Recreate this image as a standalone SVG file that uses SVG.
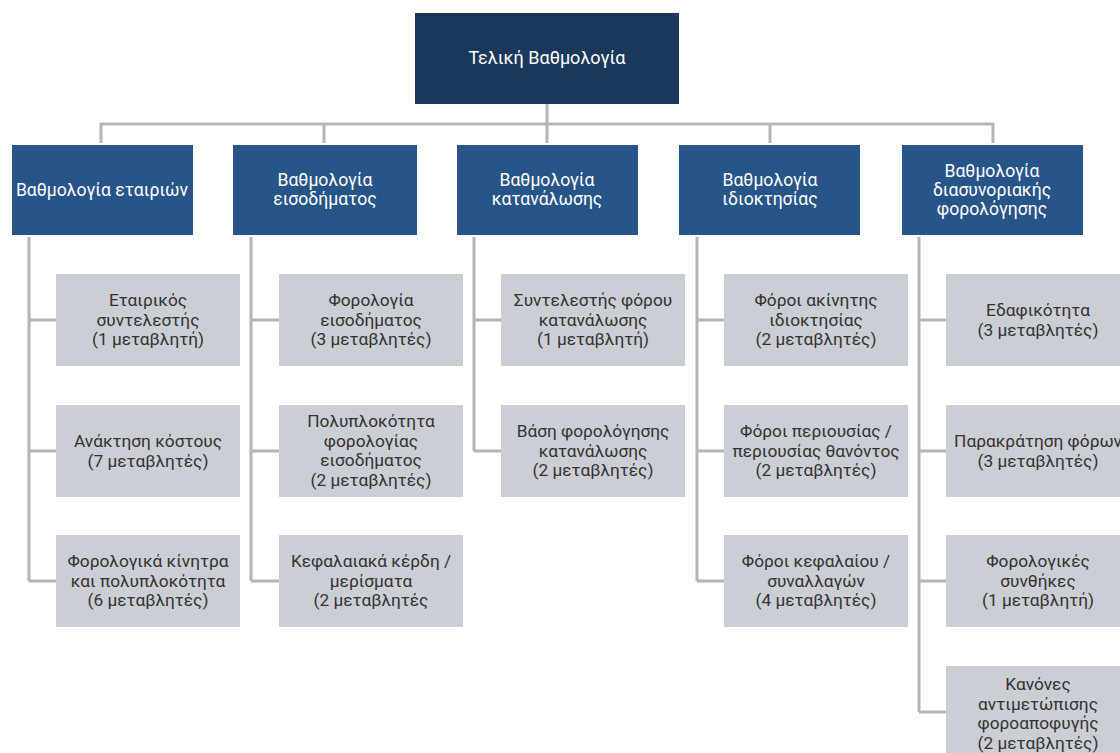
<svg xmlns="http://www.w3.org/2000/svg" width="1120" height="753" viewBox="0 0 1120 753">
<style>
.root{fill:#1b385b}
.hdr{fill:#285587}
.leaf{fill:#cbced4}
.conn{fill:none;stroke:#b5b5b5;stroke-width:3}
text{font-family:Roboto,"Noto Sans","Liberation Sans",sans-serif;text-anchor:middle}
.ht{fill:#ffffff;font-size:17.6px}
.rt{fill:#ffffff;font-size:18px}
.lt{fill:#333333;font-size:17.3px}
</style>
<rect width="1120" height="753" fill="#ffffff"/>
<g id="connectors">
<path class="conn" d="M547,104 V124 M101,143 V124 H993 V143 M324,124 V143 M547,124 V143 M770,124 V143"/>
<path class="conn" d="M29,237 V581 M29,320 H56 M29,451 H56 M29,581 H56"/>
<path class="conn" d="M251,237 V581 M251,320 H279 M251,451 H279 M251,581 H279"/>
<path class="conn" d="M474,237 V451 M474,320 H501 M474,451 H501"/>
<path class="conn" d="M697,237 V581 M697,320 H724 M697,451 H724 M697,581 H724"/>
<path class="conn" d="M919,237 V712 M919,320 H946 M919,451 H946 M919,581 H946 M919,712 H946"/>
</g>
<g id="root">
<rect class="root" x="415" y="13" width="264" height="91"/>
<text class="rt" x="547" y="64">Τελική Βαθμολογία</text>
</g>
<g id="h1">
<rect class="hdr" x="12" y="145" width="181" height="90"/>
<text class="ht" x="102" y="196">Βαθμολογία εταιριών</text>
</g>
<g id="h2">
<rect class="hdr" x="233" y="145" width="184" height="90"/>
<text class="ht" x="325" y="186">Βαθμολογία</text>
<text class="ht" x="325" y="205">εισοδήματος</text>
</g>
<g id="h3">
<rect class="hdr" x="457" y="145" width="181" height="90"/>
<text class="ht" x="547" y="186">Βαθμολογία</text>
<text class="ht" x="547" y="205">κατανάλωσης</text>
</g>
<g id="h4">
<rect class="hdr" x="679" y="145" width="181" height="90"/>
<text class="ht" x="770" y="186">Βαθμολογία</text>
<text class="ht" x="770" y="205">ιδιοκτησίας</text>
</g>
<g id="h5">
<rect class="hdr" x="902" y="145" width="181" height="90"/>
<text class="ht" x="992" y="177">Βαθμολογία</text>
<text class="ht" x="992" y="196">διασυνοριακής</text>
<text class="ht" x="992" y="215">φορολόγησης</text>
</g>
<g id="l11">
<rect class="leaf" x="56" y="274" width="184" height="92"/>
<text class="lt" x="148" y="306">Εταιρικός</text>
<text class="lt" x="148" y="325.5">συντελεστής</text>
<text class="lt" x="148" y="345">(1 μεταβλητή)</text>
</g>
<g id="l12">
<rect class="leaf" x="56" y="405" width="184" height="92"/>
<text class="lt" x="148" y="447">Ανάκτηση κόστους</text>
<text class="lt" x="148" y="466.5">(7 μεταβλητές)</text>
</g>
<g id="l13">
<rect class="leaf" x="56" y="535" width="184" height="92"/>
<text class="lt" x="148" y="567">Φορολογικά κίνητρα</text>
<text class="lt" x="148" y="586.5">και πολυπλοκότητα</text>
<text class="lt" x="148" y="606">(6 μεταβλητές)</text>
</g>
<g id="l21">
<rect class="leaf" x="279" y="274" width="184" height="92"/>
<text class="lt" x="371" y="306">Φορολογία</text>
<text class="lt" x="371" y="325.5">εισοδήματος</text>
<text class="lt" x="371" y="345">(3 μεταβλητές)</text>
</g>
<g id="l22">
<rect class="leaf" x="279" y="405" width="184" height="92"/>
<text class="lt" x="371" y="427">Πολυπλοκότητα</text>
<text class="lt" x="371" y="446.5">φορολογίας</text>
<text class="lt" x="371" y="466">εισοδήματος</text>
<text class="lt" x="371" y="485.5">(2 μεταβλητές)</text>
</g>
<g id="l23">
<rect class="leaf" x="279" y="535" width="184" height="92"/>
<text class="lt" x="371" y="567">Κεφαλαιακά κέρδη /</text>
<text class="lt" x="371" y="586.5">μερίσματα</text>
<text class="lt" x="371" y="606">(2 μεταβλητές</text>
</g>
<g id="l31">
<rect class="leaf" x="501" y="274" width="184" height="92"/>
<text class="lt" x="593" y="306">Συντελεστής φόρου</text>
<text class="lt" x="593" y="325.5">κατανάλωσης</text>
<text class="lt" x="593" y="345">(1 μεταβλητή)</text>
</g>
<g id="l32">
<rect class="leaf" x="501" y="405" width="184" height="92"/>
<text class="lt" x="593" y="437">Βάση φορολόγησης</text>
<text class="lt" x="593" y="456.5">κατανάλωσης</text>
<text class="lt" x="593" y="476">(2 μεταβλητές)</text>
</g>
<g id="l41">
<rect class="leaf" x="724" y="274" width="184" height="92"/>
<text class="lt" x="816" y="306">Φόροι ακίνητης</text>
<text class="lt" x="816" y="325.5">ιδιοκτησίας</text>
<text class="lt" x="816" y="345">(2 μεταβλητές)</text>
</g>
<g id="l42">
<rect class="leaf" x="724" y="405" width="184" height="92"/>
<text class="lt" x="816" y="437">Φόροι περιουσίας /</text>
<text class="lt" x="816" y="456.5">περιουσίας θανόντος</text>
<text class="lt" x="816" y="476">(2 μεταβλητές)</text>
</g>
<g id="l43">
<rect class="leaf" x="724" y="535" width="184" height="92"/>
<text class="lt" x="816" y="567">Φόροι κεφαλαίου /</text>
<text class="lt" x="816" y="586.5">συναλλαγών</text>
<text class="lt" x="816" y="606">(4 μεταβλητές)</text>
</g>
<g id="l51">
<rect class="leaf" x="946" y="274" width="184" height="92"/>
<text class="lt" x="1038" y="316">Εδαφικότητα</text>
<text class="lt" x="1038" y="335.5">(3 μεταβλητές)</text>
</g>
<g id="l52">
<rect class="leaf" x="946" y="405" width="184" height="92"/>
<text class="lt" x="1038" y="447">Παρακράτηση φόρων</text>
<text class="lt" x="1038" y="466.5">(3 μεταβλητές)</text>
</g>
<g id="l53">
<rect class="leaf" x="946" y="535" width="184" height="92"/>
<text class="lt" x="1038" y="567">Φορολογικές</text>
<text class="lt" x="1038" y="586.5">συνθήκες</text>
<text class="lt" x="1038" y="606">(1 μεταβλητή)</text>
</g>
<g id="l54">
<rect class="leaf" x="946" y="666" width="184" height="92"/>
<text class="lt" x="1038" y="690">Κανόνες</text>
<text class="lt" x="1038" y="709.5">αντιμετώπισης</text>
<text class="lt" x="1038" y="729">φοροαποφυγής</text>
<text class="lt" x="1038" y="748.5">(2 μεταβλητές)</text>
</g>
</svg>
